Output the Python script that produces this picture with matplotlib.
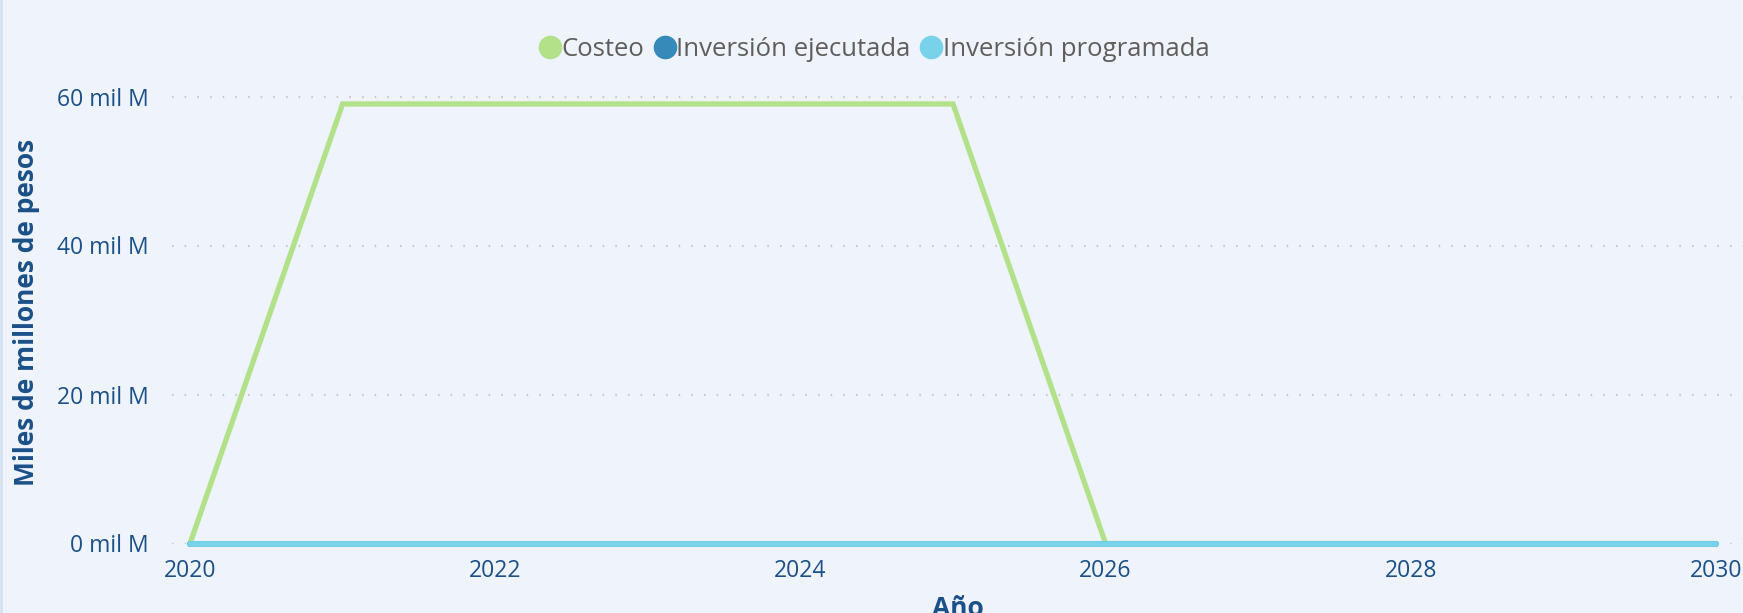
import matplotlib

matplotlib.use("Agg")
import matplotlib.pyplot as plt  # noqa: E402
from matplotlib.lines import Line2D  # noqa: E402

# annual values, thousands of millions of pesos
years = [2020, 2021, 2022, 2023, 2024, 2025, 2026, 2027, 2028, 2029, 2030]
costeo = [0, 59, 59, 59, 59, 59, 0, 0, 0, 0, 0]
inv_ejecutada = [0, 0, 0, 0, 0, 0, 0, 0, 0, 0, 0]
inv_programada = [0, 0, 0, 0, 0, 0, 0, 0, 0, 0, 0]

series_names = ["Costeo", "Inversión ejecutada", "Inversión programada"]
yticks = [0, 20, 40, 60]
xticks = [2020, 2022, 2024, 2026, 2028, 2030]

BG = "#EEF3FC"
NAVY = "#1B5088"
COLORS = ["#B2E189", "#358AB9", "#78D3EA"]

plt.rcParams["font.family"] = ["Open Sans", "DejaVu Sans"]

fig = plt.figure(figsize=(17.43, 6.13), dpi=100, facecolor=BG)
ax = fig.add_axes([172 / 1743, 1 - 543.5 / 613, 1 - 172 / 1743, (543.5 - 81.6) / 613])
ax.set_facecolor(BG)

ax.plot(years, costeo, color=COLORS[0], lw=3.8, solid_joinstyle="miter",
        solid_capstyle="round", zorder=3, clip_on=False)
ax.plot(years, inv_ejecutada, color=COLORS[1], lw=4.2, solid_capstyle="round",
        zorder=4, clip_on=False)
ax.plot(years, inv_programada, color=COLORS[2], lw=4.2, solid_capstyle="round",
        zorder=5, clip_on=False)

ax.set_xlim(2020 - 18 / 152.6, 2030 + 27 / 152.6)
ax.set_ylim(0, 62)
ax.set_yticks(yticks)
ax.set_yticklabels([f"{v} mil M" for v in yticks])
ax.set_xticks(xticks)
ax.set_xticklabels([str(x) for x in xticks])
ax.tick_params(axis="both", length=0, labelsize=16.5, labelcolor=NAVY)
ax.tick_params(axis="y", pad=17)
ax.tick_params(axis="x", pad=11)

ax.grid(axis="y", color="#C8C8C8", lw=1.6, linestyle=(0, (0.7, 5)))
ax.grid(axis="x", visible=False)
for s in ax.spines.values():
    s.set_visible(False)

ax.set_ylabel("Miles de millones de pesos", fontsize=19, fontweight="bold",
              color=NAVY, labelpad=12)
ax.set_xlabel("Año", fontsize=19, fontweight="bold", color=NAVY, labelpad=9)

handles = [Line2D([], [], marker="o", ls="none", ms=16, color=c) for c in COLORS]
fig.legend(handles, series_names, loc="center", bbox_to_anchor=(873 / 1743, 1 - 49 / 613),
           ncol=3, frameon=False, fontsize=18.5, labelcolor="#605E5C",
           handletextpad=-0.05, columnspacing=0.3, handlelength=1.0)

# faint frame edge on the left
fig.add_artist(Line2D([0.0008, 0.0008], [0, 1], color="#D5E0F2", lw=2,
                      transform=fig.transFigure))

fig.savefig("out.png", dpi=100, facecolor=BG)
